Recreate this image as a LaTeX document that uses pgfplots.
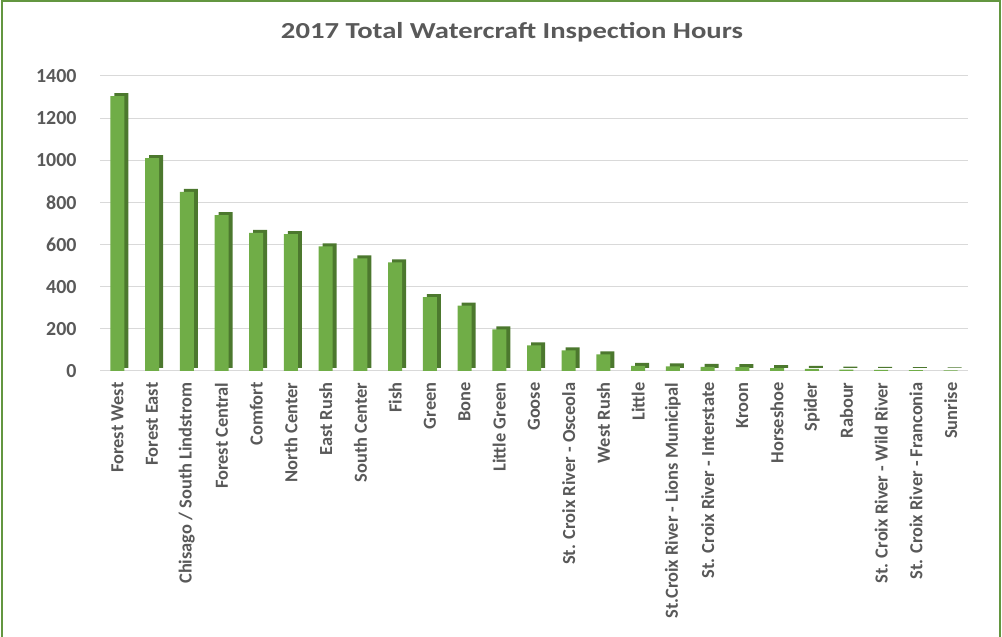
\documentclass[border=0pt]{standalone}
\usepackage{fontspec}
\setmainfont{Carlito}
\usepackage{pgfplots}
\usepackage{pgfplotstable}
\pgfplotsset{compat=1.18}
\definecolor{barg}{RGB}{112,173,71}
\definecolor{bard}{RGB}{76,120,46}
\definecolor{frameg}{RGB}{99,150,64}
\definecolor{txt}{RGB}{89,89,89}
\definecolor{gridc}{RGB}{217,217,217}
\pgfplotstableread{
x v
0 1305
1 1010
2 850
3 740
4 655
5 650
6 592
7 535
8 516
9 350
10 310
11 198
12 122
13 98
14 79
15 24
16 22
17 20
18 18
19 14
20 10
21 7
22 5
23 4
24 3
}\datatab
\begin{document}
\begin{tikzpicture}
\useasboundingbox (0bp,0bp) rectangle (1002bp,637bp);
\draw[frameg, line width=2bp] (2bp,0bp) -- (2bp,636bp) -- (1000bp,636bp) -- (1000bp,0bp);
\node[font=\bfseries\fontsize{23}{23}\selectfont, text=txt, xscale=1.25] at (512bp,605bp) {2017 Total Watercraft Inspection Hours};
\begin{axis}[
  at={(100bp,266bp)}, anchor=south west, scale only axis,
  width=868bp, height=295bp,
  xmin=-0.5, xmax=24.5, ymin=0, ymax=1400,
  ytick={0,200,...,1400},
  ymajorgrids, grid style={gridc, line width=1bp},
  axis line style={draw=none}, major tick length=0pt,
  xtick=data,
  xticklabels={Forest West, Forest East, Chisago / South Lindstrom, Forest Central, Comfort, North Center, East Rush, South Center, Fish, Green, Bone, Little Green, Goose, St. Croix River - Osceola, West Rush, Little, St.Croix River - Lions Municipal, St. Croix River - Interstate, Kroon, Horseshoe, Spider, Rabour, St. Croix River - Wild River, St. Croix River - Franconia, Sunrise},
  x tick label style={rotate=90, anchor=east, font=\bfseries\fontsize{18.5}{18.5}\selectfont, text=txt},
  xticklabel shift=8bp,
  y tick label style={font=\bfseries\fontsize{20}{20}\selectfont, text=txt},
  yticklabel shift=20bp,
  /pgf/number format/assume math mode=true,
  /pgf/number format/1000 sep={},
  ybar, bar width=14bp,
]
\addplot[fill=bard, draw=none, bar shift=4bp, yshift=3bp] table[x=x,y=v]{\datatab};
\addplot[fill=barg, draw=none, bar shift=0bp] table[x=x,y=v]{\datatab};
\end{axis}
\end{tikzpicture}
\end{document}
